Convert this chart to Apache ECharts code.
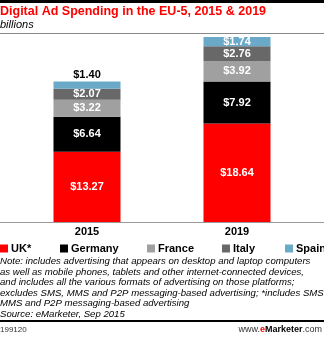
<!DOCTYPE html>
<html><head><meta charset="utf-8">
<script src="https://cdn.jsdelivr.net/npm/echarts@6/dist/echarts.min.js"></script>
<style>html,body{margin:0;padding:0;background:#fff}#c{width:324px;height:337px}</style>
</head><body><div id="c"></div>
<script>
var categories = ['2015', '2019'];
var seriesNames = ['UK*', 'Germany', 'France', 'Italy', 'Spain'];
var uk = [13.27, 18.64];
var germany = [6.64, 7.92];
var france = [3.22, 3.92];
var italy = [2.07, 2.76];
var spain = [1.40, 1.74];
var colors = ['#ff0000', '#000000', '#a0a0a0', '#686868', '#6aa9c8'];
var legendLefts = [0, 60, 147, 222, 285];

var values = [uk, germany, france, italy, spain];
var FONT = '"Liberation Sans", Arial, sans-serif';
var chart = echarts.init(document.getElementById('c'), null, {renderer: 'canvas'});

var series = seriesNames.map(function (n, i) {
  return {
    name: n, type: 'bar', stack: 'a', barWidth: 67,
    itemStyle: {color: colors[i]},
    data: values[i].map(function (v, j) {
      var d = {value: v};
      if (i === 4 && j === 0) {
        d.label = {position: 'top', color: '#000', distance: 1};
      }
      return d;
    }),
    label: {
      show: true, position: 'inside', color: '#fff', fontWeight: 'bold',
      fontSize: 11, fontFamily: FONT,
      formatter: function (p) { return '$' + p.value.toFixed(2); }
    }
  };
});

var legends = seriesNames.map(function (n, i) {
  return {
    data: [n], left: legendLefts[i], top: 243, icon: 'rect',
    itemWidth: 8, itemHeight: 8, itemGap: 0, padding: 0,
    textStyle: {fontWeight: 'bold', fontSize: 11, color: '#000', fontFamily: FONT, padding: [0, 0, 0, -2]}
  };
});

var noteText = 'Note: includes advertising that appears on desktop and laptop computers\n' +
  'as well as mobile phones, tablets and other internet-connected devices,\n' +
  'and includes all the various formats of advertising on those platforms;\n' +
  'excludes SMS, MMS and P2P messaging-based advertising; *includes SMS,\n' +
  'MMS and P2P messaging-based advertising\n' +
  'Source: eMarketer, Sep 2015';

chart.setOption({
  animation: false,
  title: [{
    text: 'Digital Ad Spending in the EU-5, 2015 & 2019', left: 0, top: 5, padding: 0,
    textStyle: {color: '#ff0000', fontWeight: 'bold', fontSize: 12.5, fontFamily: FONT}
  }, {
    text: 'billions', left: 0, top: 19, padding: 0,
    textStyle: {color: '#000', fontStyle: 'italic', fontWeight: 'normal', fontSize: 11, fontFamily: FONT}
  }],
  legend: legends,
  grid: {left: 12, right: 12, top: 37, height: 185},
  xAxis: {
    type: 'category', data: categories,
    axisLine: {lineStyle: {color: '#999', width: 1}},
    axisTick: {show: false},
    axisLabel: {fontWeight: 'bold', fontSize: 11, color: '#000', fontFamily: FONT, margin: 4}
  },
  yAxis: {type: 'value', min: 0, max: 35, show: false, splitLine: {show: false}},
  series: series,
  graphic: [
    {type: 'rect', shape: {x: 0, y: 0, width: 324, height: 3}, style: {fill: '#000'}},
    {type: 'line', shape: {x1: 0, y1: 33.5, x2: 324, y2: 33.5}, style: {stroke: '#888', lineWidth: 1}},
    {type: 'line', shape: {x1: 0, y1: 222.5, x2: 324, y2: 222.5}, style: {stroke: '#999', lineWidth: 1}},
    {type: 'text', left: 0, top: 256, style: {
      text: noteText, fill: '#000', font: 'italic 9.6px ' + FONT, lineHeight: 10.6
    }},
    {type: 'rect', shape: {x: 0, y: 320, width: 324, height: 2}, style: {fill: '#000'}},
    {type: 'text', left: 0, top: 326, style: {text: '199120', fill: '#333', font: '8px ' + FONT}},
    {type: 'text', right: 2, top: 325, style: {
      text: '{a|www.}{e|e}{m|Marketer}{a|.com}',
      rich: {
        a: {fontSize: 9, fontFamily: FONT, fill: '#333'},
        e: {fontSize: 9, fontFamily: FONT, fill: '#ff0000', fontWeight: 'bold'},
        m: {fontSize: 9, fontFamily: FONT, fill: '#000', fontWeight: 'bold'}
      }
    }}
  ]
});
</script></body></html>
